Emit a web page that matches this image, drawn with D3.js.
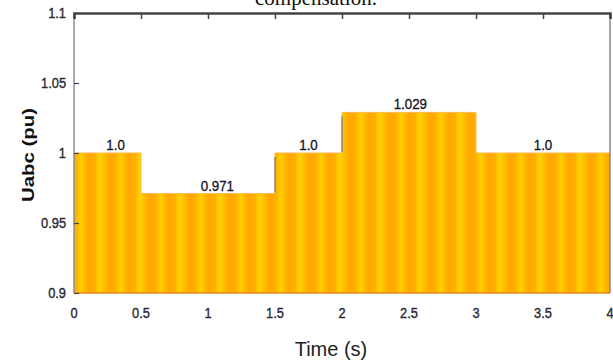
<!DOCTYPE html>
<html>
<head>
<meta charset="utf-8">
<script src="https://cdn.jsdelivr.net/npm/d3@7"></script>
<style>
  html, body { margin: 0; padding: 0; background: #fff; }
  svg { display: block; }
</style>
</head>
<body>
<svg id="chart" width="613" height="360"></svg>
<script>
// Step levels of the phase voltage magnitude (pu) over time (s)
const segStart = [0, 0.5, 1.5, 2, 3];
const segEnd   = [0.5, 1.5, 2, 3, 4];
const segValue = [1.0, 0.971, 1.0, 1.029, 1.0];
const segLabel = ["1.0", "0.971", "1.0", "1.029", "1.0"];
const labelTime = [0.31, 1.07, 1.75, 2.51, 3.5];
const xTicks = [0, 0.5, 1, 1.5, 2, 2.5, 3, 3.5, 4];
const yTicks = [0.9, 0.95, 1, 1.05, 1.1];

const svg = d3.select("#chart");
const plotL = 74, plotR = 610, plotT = 13, plotB = 293;
const sans = "'Liberation Sans', Arial, sans-serif";

const x = d3.scaleLinear().domain([0, 4]).range([plotL, plotR]);
const y = d3.scaleLinear().domain([0.9, 1.1]).range([plotB, plotT]);

// Striped orange/yellow fill of the densely packed waveform
const defs = svg.append("defs");
const grad = defs.append("linearGradient").attr("id", "stripeGrad")
  .attr("x1", "0").attr("x2", "1").attr("y1", "0").attr("y2", "0");
[[0, "#FFA800"], [0.12, "#FFB400"], [0.22, "#FFD200"], [0.3, "#FFBC00"],
 [0.42, "#FFA800"], [0.56, "#FFAE00"], [0.7, "#FFD400"], [0.78, "#FFC200"],
 [0.9, "#FFAA00"], [1, "#FFA800"]]
  .forEach(([o, c]) => grad.append("stop").attr("offset", o).attr("stop-color", c));
const pat = defs.append("pattern").attr("id", "stripes")
  .attr("patternUnits", "userSpaceOnUse")
  .attr("x", plotL - 2).attr("y", 0).attr("width", 40).attr("height", 20);
pat.append("rect").attr("width", 40).attr("height", 20).attr("fill", "url(#stripeGrad)");

// Step data as points for the area
const pts = [];
segStart.forEach((s, i) => {
  pts.push([s, segValue[i]]);
  pts.push([segEnd[i], segValue[i]]);
});

const area = d3.area()
  .x(d => x(d[0]))
  .y0(y(0.9))
  .y1(d => y(d[1]));

svg.append("path")
  .datum(pts)
  .attr("d", area)
  .attr("fill", "url(#stripes)");

// faint top edge
const line = d3.line().x(d => x(d[0])).y(d => y(d[1]));
svg.append("path").datum(pts).attr("d", line)
  .attr("fill", "none").attr("stroke", "#FFB84D").attr("stroke-width", 1);

// rising edges show the trace in grey
segValue.forEach((v, i) => {
  if (i > 0 && v > segValue[i - 1]) {
    svg.append("line")
      .attr("x1", x(segStart[i])).attr("x2", x(segStart[i]))
      .attr("y1", y(segValue[i - 1]) - 1).attr("y2", y(v) + 4)
      .attr("stroke", "#777").attr("stroke-width", 1.2);
  }
});

// bottom edge of the fill
svg.append("line")
  .attr("x1", plotL).attr("x2", plotR).attr("y1", plotB).attr("y2", plotB)
  .attr("stroke", "#E58A1A").attr("stroke-width", 1.5);

// frame: left and right in grey, top dark
svg.append("line").attr("x1", plotL).attr("x2", plotL).attr("y1", plotT).attr("y2", plotB)
  .attr("stroke", "#8a8f99").attr("stroke-width", 1.5);
svg.append("line").attr("x1", plotR).attr("x2", plotR).attr("y1", plotT).attr("y2", plotB)
  .attr("stroke", "#8a8a8a").attr("stroke-width", 1.5);

// top axis with inward ticks
const topAxis = svg.append("g").attr("transform", `translate(0,${plotT})`)
  .call(d3.axisBottom(x).tickValues(xTicks).tickSize(6).tickFormat(""));
topAxis.select(".domain").attr("stroke", "#444").attr("stroke-width", 2.5);
topAxis.selectAll(".tick line").attr("stroke", "#444").attr("stroke-width", 1.5);

// left axis ticks pointing inward
const leftAxis = svg.append("g").attr("transform", `translate(${plotL},0)`)
  .call(d3.axisRight(y).tickValues(yTicks).tickSize(5).tickFormat(""));
leftAxis.select(".domain").remove();
leftAxis.selectAll(".tick line").attr("stroke", "#444").attr("stroke-width", 1.2);

// tick labels (slightly tall, narrow glyphs)
const fmtY = d => (d === 1 ? "1" : String(d));
svg.append("g").selectAll("text").data(yTicks).join("text")
  .attr("transform", d => `translate(${plotL - 8},${y(d)}) scale(0.95,1.12)`)
  .attr("dy", "0.35em")
  .attr("text-anchor", "end")
  .attr("font-family", sans).attr("font-size", 13.5)
  .attr("fill", "#2a2a35").attr("stroke", "#2a2a35").attr("stroke-width", 0.35)
  .text(fmtY);

svg.append("g").selectAll("text").data(xTicks).join("text")
  .attr("transform", d => `translate(${x(d)},318) scale(0.95,1.12)`)
  .attr("text-anchor", "middle")
  .attr("font-family", sans).attr("font-size", 13.5)
  .attr("fill", "#2a2a35").attr("stroke", "#2a2a35").attr("stroke-width", 0.35)
  .text(d => String(d));

// value labels
svg.append("g").selectAll("text").data(segLabel).join("text")
  .attr("transform", (d, i) => `translate(${x(labelTime[i])},${y(segValue[i]) - 3}) scale(0.95,1.1)`)
  .attr("text-anchor", "middle")
  .attr("font-family", sans).attr("font-size", 14)
  .attr("fill", "#151525").attr("stroke", "#151525").attr("stroke-width", 0.3)
  .text(d => d);

// axis titles
svg.append("text")
  .attr("x", 331).attr("y", 356)
  .attr("text-anchor", "middle")
  .attr("font-family", sans).attr("font-size", 20)
  .attr("fill", "#222")
  .text("Time (s)");

svg.append("text")
  .attr("transform", "translate(34,155) rotate(-90) scale(1.2,1)")
  .attr("text-anchor", "middle")
  .attr("font-family", sans).attr("font-size", 17)
  .attr("font-weight", "bold")
  .attr("fill", "#111")
  .text("Uabc (pu)");

// caption text running off the top edge
svg.append("text")
  .attr("x", 316).attr("y", 5)
  .attr("text-anchor", "middle")
  .attr("font-family", "'Liberation Serif', 'Times New Roman', serif").attr("font-size", 21)
  .attr("fill", "#111")
  .text("compensation.");
</script>
</body>
</html>
